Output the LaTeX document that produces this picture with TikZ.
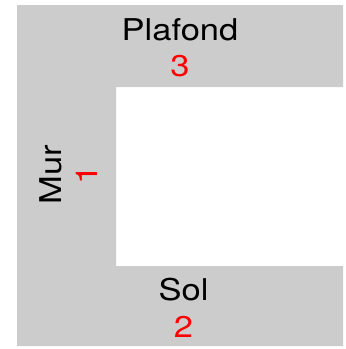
\documentclass[tikz,border=0pt]{standalone}
\usepackage{fontspec}
\setmainfont[FakeStretch=1.15]{TeX Gyre Heros}
\definecolor{wallgray}{RGB}{204,204,204}
\begin{document}
\begin{tikzpicture}[x=1pt,y=-1pt,
  lbl/.style={font=\fontsize{30}{36}\selectfont, inner sep=0pt, anchor=base},
  num/.style={lbl, text=red}]
\useasboundingbox (0,0) rectangle (346,349);
\fill[wallgray] (17,5) -- (343,5) -- (343,87) -- (116,87) -- (116,266) -- (343,266) -- (343,346) -- (17,346) -- cycle;
\node[lbl] (plafond) at (180,40) {Plafond};
\node[num] (n3) at (180,76.7) {3};
\node[lbl] (sol) at (183.5,300) {Sol};
\node[num] (n2) at (183.5,337) {2};
\node[lbl, rotate=90] (mur) at (62,175) {Mur};
\node[num, rotate=90] (n1) at (97,175) {1};
\end{tikzpicture}
\end{document}
